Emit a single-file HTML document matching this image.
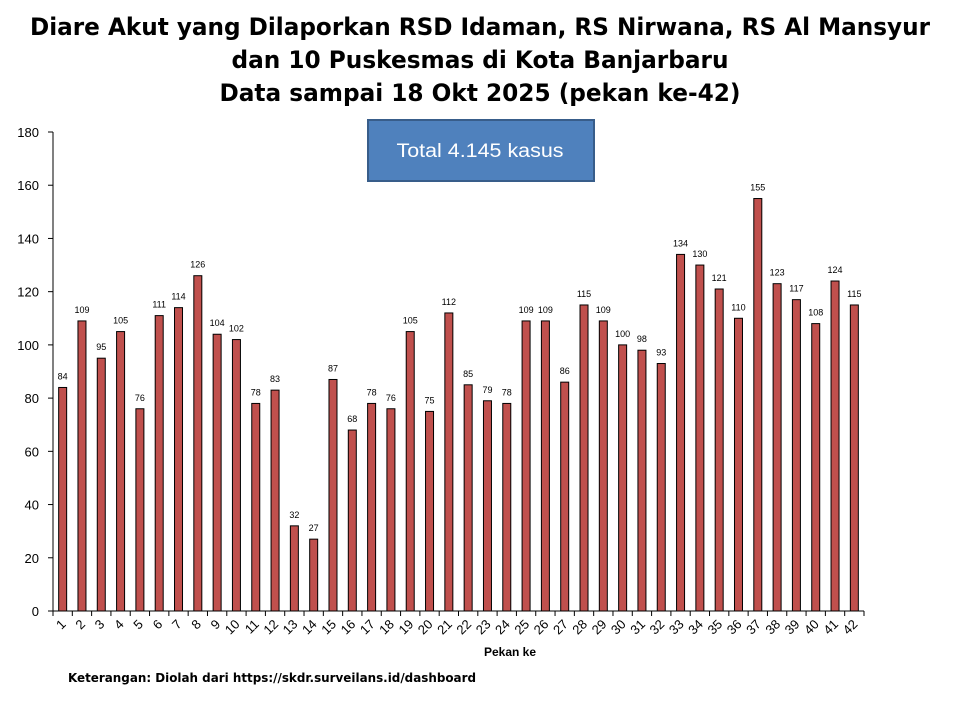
<!DOCTYPE html>
<html><head><meta charset="utf-8"><style>
body{margin:0;background:#fff;}
svg{display:block;font-family:"Liberation Sans",Arial,sans-serif;}
</style></head><body>
<svg width="960" height="720" xmlns="http://www.w3.org/2000/svg">
<g font-weight="bold" font-size="24" text-anchor="middle" fill="#000" font-family="'DejaVu Sans','Liberation Sans',sans-serif" lengthAdjust="spacingAndGlyphs">
<text x="480" y="35" textLength="900" lengthAdjust="spacingAndGlyphs">Diare Akut yang Dilaporkan RSD Idaman, RS Nirwana, RS Al Mansyur</text>
<text x="480" y="68" textLength="497" lengthAdjust="spacingAndGlyphs">dan 10 Puskesmas di Kota Banjarbaru</text>
<text x="480" y="101" textLength="521" lengthAdjust="spacingAndGlyphs">Data sampai 18 Okt 2025 (pekan ke-42)</text>
</g>
<rect x="368" y="120" width="226" height="61" fill="#4F81BD" stroke="#385D8A" stroke-width="2"/>
<text x="480" y="157" font-size="19" fill="#fff" text-anchor="middle" textLength="167" lengthAdjust="spacingAndGlyphs">Total 4.145 kasus</text>
<g id="chart"></g>
<text x="510" y="656" font-size="12" font-weight="bold" text-anchor="middle">Pekan ke</text>
<text x="68" y="682" font-size="12" font-weight="bold" font-family="'DejaVu Sans','Liberation Sans',sans-serif" textLength="408" lengthAdjust="spacingAndGlyphs">Keterangan: Diolah dari https://skdr.surveilans.id/dashboard</text>
</svg>
<script>
const d=[84,109,95,105,76,111,114,126,104,102,78,83,32,27,87,68,78,76,105,75,112,85,79,78,109,109,86,115,109,100,98,93,134,130,121,110,155,123,117,108,124,115];
const g=document.getElementById('chart');let s='';
const y0=611,k=479/180,x0=53,x1=864,step=(x1-x0)/42;
s+=`<line x1="${x0}" y1="132" x2="${x0}" y2="${y0}" stroke="#000"/>`;
s+=`<line x1="${x0}" y1="${y0}" x2="${x1}" y2="${y0}" stroke="#000"/>`;
for(let v=0;v<=180;v+=20){const y=y0-v*k;s+=`<line x1="48" y1="${y}" x2="${x0}" y2="${y}" stroke="#000"/><text x="39" y="${y+5}" font-size="13" text-anchor="end">${v}</text>`;}
for(let i=0;i<=42;i++){const x=x0+i*step;s+=`<line x1="${x}" y1="${y0}" x2="${x}" y2="${y0+5}" stroke="#000"/>`;}
d.forEach((v,i)=>{const cx=x0+(i+0.5)*step;const h=v*k;
s+=`<rect x="${cx-4}" y="${y0-h}" width="8" height="${h}" fill="#C0504D" stroke="#000" stroke-width="1"/>`;
s+=`<text x="${cx}" y="${y0-h-8}" font-size="9" text-anchor="middle">${v}</text>`;
s+=`<text transform="translate(${cx+4},${y0+14}) rotate(-45)" font-size="13" text-anchor="end">${i+1}</text>`;});
g.innerHTML=s;
</script>
</body></html>
